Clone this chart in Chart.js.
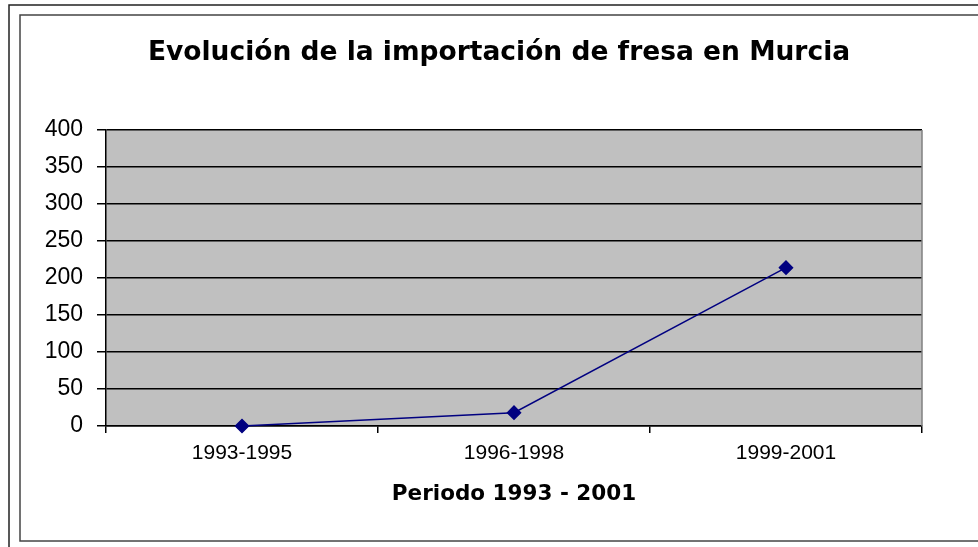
<!DOCTYPE html>
<html>
<head>
<meta charset="utf-8">
<script src="https://cdn.jsdelivr.net/npm/chart.js@4/dist/chart.umd.min.js"></script>
<style>
  html, body { margin: 0; padding: 0; background: #fff; }
  canvas { display: block; }
</style>
</head>
<body>
<canvas id="c" width="978" height="547"></canvas>
<script>
const chartTitle = 'Evolución de la importación de fresa en Murcia';
const xAxisTitle = 'Periodo 1993 - 2001';
const categories = ['1993-1995', '1996-1998', '1999-2001'];
const importValues = [0, 18, 214];
const yTickValues = [0, 50, 100, 150, 200, 250, 300, 350, 400];

const framePlugin = {
  id: 'frame',
  beforeDraw(chart) {
    const ctx = chart.ctx;
    const a = chart.chartArea;
    ctx.save();
    ctx.fillStyle = '#ffffff';
    ctx.fillRect(0, 0, chart.width, chart.height);
    ctx.strokeStyle = '#222';
    ctx.lineWidth = 1.5;
    ctx.strokeRect(9, 5, chart.width + 20, chart.height + 20);
    ctx.strokeStyle = '#444';
    ctx.strokeRect(20, 15, chart.width + 20, 526);
    ctx.fillStyle = '#c0c0c0';
    ctx.fillRect(a.left, a.top, a.right - a.left, a.bottom - a.top);
    ctx.restore();
  },
  afterDraw(chart) {
    const ctx = chart.ctx;
    const a = chart.chartArea;
    ctx.save();
    ctx.strokeStyle = '#808080';
    ctx.lineWidth = 1.5;
    ctx.beginPath();
    ctx.moveTo(a.right, a.top);
    ctx.lineTo(a.right, a.bottom);
    ctx.stroke();
    ctx.restore();
  }
};

new Chart(document.getElementById('c'), {
  type: 'line',
  data: {
    labels: categories,
    datasets: [{
      data: importValues,
      borderColor: '#000080',
      backgroundColor: '#000080',
      borderWidth: 1.5,
      pointStyle: 'rectRot',
      pointRadius: 6.5,
      pointBackgroundColor: '#000080',
      pointBorderColor: '#000080',
      tension: 0,
      fill: false,
      clip: false
    }]
  },
  options: {
    responsive: false,
    animation: false,
    devicePixelRatio: 1,
    layout: { padding: { left: 20, right: 0, top: 0, bottom: 30 } },
    plugins: {
      legend: { display: false },
      tooltip: { enabled: false },
      title: {
        display: true,
        text: chartTitle,
        color: '#000',
        font: { family: 'DejaVu Sans', size: 26.5, weight: 'bold', lineHeight: 1.2 },
        padding: { top: 36.8, bottom: 61.4 }
      }
    },
    scales: {
      x: {
        type: 'category',
        offset: true,
        grid: { display: true, drawOnChartArea: false, offset: true, color: '#000', lineWidth: 1.5, tickLength: 7 },
        border: { display: true, color: '#000', width: 1.5 },
        ticks: { color: '#000', padding: 7.5, font: { family: 'Liberation Sans', size: 21 }, maxRotation: 0 },
        title: {
          display: true,
          text: xAxisTitle,
          color: '#000',
          font: { family: 'DejaVu Sans', size: 21.5, weight: 'bold', lineHeight: 1.2 },
          padding: { top: 0, bottom: 10 }
        },
        afterFit(scale) { scale.height = 91; }
      },
      y: {
        min: 0,
        max: 400,
        afterBuildTicks(scale) { scale.ticks = yTickValues.map(v => ({ value: v })); },
        grid: { color: '#000', lineWidth: 1.5, tickLength: 9 },
        border: { display: true, color: '#000', width: 1.5 },
        ticks: { color: '#000', padding: 14, font: { family: 'Liberation Sans', size: 23 } },
        afterFit(scale) { scale.width = 86; }
      },
      y2: {
        position: 'right',
        display: true,
        grid: { display: false },
        border: { display: false },
        ticks: { display: false },
        afterFit(scale) { scale.width = 56; }
      }
    }
  },
  plugins: [framePlugin]
});
</script>
</body>
</html>
